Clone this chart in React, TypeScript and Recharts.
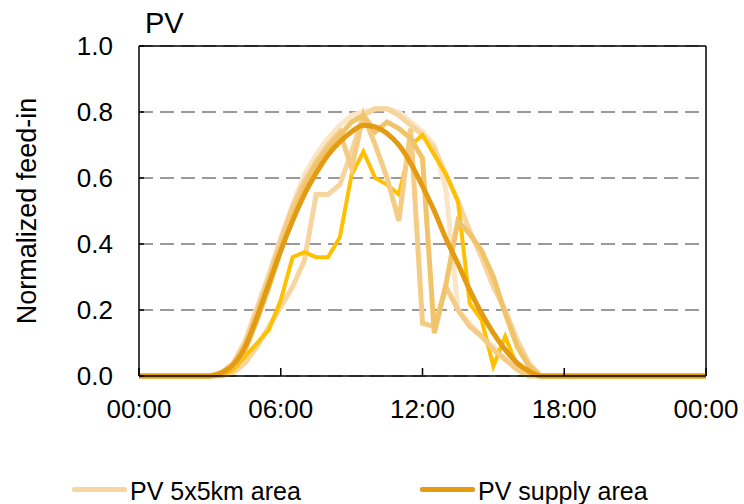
import React from 'react';
import {
  LineChart,
  Line,
  XAxis,
  YAxis,
  CartesianGrid,
  ReferenceLine,
} from 'recharts';

// half-hour steps, 00:00 .. 24:00
const hours = [
  0, 0.5, 1, 1.5, 2, 2.5, 3, 3.5, 4, 4.5, 5, 5.5,
  6, 6.5, 7, 7.5, 8, 8.5, 9, 9.5, 10, 10.5, 11, 11.5,
  12, 12.5, 13, 13.5, 14, 14.5, 15, 15.5, 16, 16.5, 17, 17.5,
  18, 18.5, 19, 19.5, 20, 20.5, 21, 21.5, 22, 22.5, 23, 23.5, 24,
];

// PV 5x5km areas (several grid cells)
const areaPale = [
  0, 0, 0, 0, 0, 0, 0, 0.01, 0.04, 0.11, 0.21, 0.31,
  0.42, 0.52, 0.61, 0.67, 0.72, 0.76, 0.79, 0.8, 0.81, 0.81, 0.8, 0.77,
  0.74, 0.7, 0.56, 0.2, 0.16, 0.12, 0.09, 0.05, 0.02, 0, 0, 0,
  0, 0, 0, 0, 0, 0, 0, 0, 0, 0, 0, 0, 0,
];
const areaBeige = [
  0, 0, 0, 0, 0, 0, 0, 0, 0.01, 0.04, 0.09, 0.15,
  0.21, 0.27, 0.35, 0.55, 0.55, 0.58, 0.68, 0.79, 0.81, 0.81, 0.79, 0.76,
  0.73, 0.69, 0.61, 0.53, 0.44, 0.36, 0.27, 0.2, 0.11, 0.04, 0, 0,
  0, 0, 0, 0, 0, 0, 0, 0, 0, 0, 0, 0, 0,
];
const areaLight = [
  0, 0, 0, 0, 0, 0, 0, 0.01, 0.04, 0.1, 0.2, 0.3,
  0.41, 0.51, 0.59, 0.65, 0.7, 0.74, 0.63, 0.79, 0.7, 0.6, 0.47, 0.75,
  0.16, 0.15, 0.27, 0.2, 0.15, 0.12, 0.08, 0.05, 0.02, 0, 0, 0,
  0, 0, 0, 0, 0, 0, 0, 0, 0, 0, 0, 0, 0,
];
const areaMid = [
  0, 0, 0, 0, 0, 0, 0, 0.01, 0.03, 0.08, 0.17, 0.27,
  0.38, 0.48, 0.57, 0.64, 0.69, 0.73, 0.77, 0.79, 0.74, 0.77, 0.75, 0.72,
  0.66, 0.13, 0.28, 0.47, 0.43, 0.38, 0.3, 0.19, 0.09, 0.03, 0, 0,
  0, 0, 0, 0, 0, 0, 0, 0, 0, 0, 0, 0, 0,
];
const areaYellow = [
  0, 0, 0, 0, 0, 0, 0, 0, 0.02, 0.06, 0.1, 0.14,
  0.23, 0.36, 0.375, 0.36, 0.36, 0.42, 0.61, 0.68, 0.6, 0.58, 0.55, 0.7,
  0.73, 0.67, 0.61, 0.53, 0.22, 0.17, 0.03, 0.12, 0.03, 0, 0, 0,
  0, 0, 0, 0, 0, 0, 0, 0, 0, 0, 0, 0, 0,
];

// PV supply area
const supplyArea = [
  0, 0, 0, 0, 0, 0, 0, 0.01, 0.035, 0.09, 0.18, 0.28,
  0.38, 0.47, 0.55, 0.615, 0.67, 0.71, 0.74, 0.76, 0.755, 0.735, 0.7, 0.645,
  0.575, 0.5, 0.415, 0.34, 0.26, 0.19, 0.13, 0.08, 0.04, 0.015, 0, 0,
  0, 0, 0, 0, 0, 0, 0, 0, 0, 0, 0, 0, 0,
];

const xTicks = [0, 6, 12, 18, 24];
const xTickLabels = ['00:00', '06:00', '12:00', '18:00', '00:00'];
const yTicks = [0, 0.2, 0.4, 0.6, 0.8, 1.0];

const data = hours.map((h, i) => ({
  h,
  pale: areaPale[i],
  beige: areaBeige[i],
  light: areaLight[i],
  mid: areaMid[i],
  yellow: areaYellow[i],
  supply: supplyArea[i],
}));

const FONT = '"Liberation Sans", Arial, sans-serif';

const XTick = (props: any) => {
  const { x, y, index } = props;
  return (
    <g>
      <line x1={x} x2={x} y1={y} y2={y - 8} stroke="#000" strokeWidth={1.5} />
      <text x={x} y={y + 42} textAnchor="middle" fontSize={26} fontFamily={FONT} fill="#000">
        {xTickLabels[index]}
      </text>
    </g>
  );
};

const YTick = (props: any) => {
  const { x, y, payload } = props;
  return (
    <g>
      <line x1={x} x2={x + 5} y1={y} y2={y} stroke="#000" strokeWidth={1.5} />
      <text x={x - 26} y={y + 9} textAnchor="end" fontSize={26} fontFamily={FONT} fill="#000">
        {payload.value.toFixed(1)}
      </text>
    </g>
  );
};

const App = () => {
  return (
    <div style={{ position: 'absolute', left: 0, top: 0, width: 744, height: 504, background: '#fff', fontFamily: FONT }}>
      <LineChart width={744} height={504} data={data} margin={{ top: 46, right: 38, bottom: 88, left: 79 }}>
        <CartesianGrid vertical={false} stroke="#9a9a9a" strokeWidth={2} strokeDasharray="14 7" />
        <XAxis
          dataKey="h"
          type="number"
          domain={[0, 24]}
          ticks={xTicks}
          height={40}
          tickSize={0}
          tickMargin={0}
          tick={<XTick />}
          axisLine={{ stroke: '#000', strokeWidth: 1.5 }}
          interval={0}
        />
        <YAxis
          type="number"
          domain={[0, 1]}
          ticks={yTicks}
          width={60}
          tickSize={0}
          tickMargin={0}
          tick={<YTick />}
          axisLine={{ stroke: '#000', strokeWidth: 1.5 }}
          interval={0}
        />
        <ReferenceLine y={1} stroke="#000" strokeWidth={1.5} />
        <ReferenceLine x={24} stroke="#000" strokeWidth={1.5} />
        <Line dataKey="pale" stroke="#FAE5C6" strokeWidth={5} dot={false} isAnimationActive={false} />
        <Line dataKey="beige" stroke="#F7D59E" strokeWidth={5} dot={false} isAnimationActive={false} />
        <Line dataKey="yellow" stroke="#FFC000" strokeWidth={4} dot={false} isAnimationActive={false} />
        <Line dataKey="light" stroke="#F4CC86" strokeWidth={5} dot={false} isAnimationActive={false} />
        <Line dataKey="mid" stroke="#F1C36B" strokeWidth={5} dot={false} isAnimationActive={false} />
        <Line type="monotone" dataKey="supply" stroke="#E39B12" strokeWidth={5} dot={false} isAnimationActive={false} />
      </LineChart>

      <div style={{ position: 'absolute', left: 145, top: 9, fontSize: 29, lineHeight: 1, color: '#000' }}>PV</div>

      <div
        style={{
          position: 'absolute',
          left: 27,
          top: 211,
          transform: 'translate(-50%, -50%) rotate(-90deg)',
          whiteSpace: 'nowrap',
          fontSize: 27,
          lineHeight: 1,
          color: '#000',
        }}
      >
        Normalized feed-in
      </div>

      <div style={{ position: 'absolute', left: 72, top: 487, width: 55, height: 5, borderRadius: 2, background: '#F8D6A0' }} />
      <div style={{ position: 'absolute', left: 130, top: 479, fontSize: 25, lineHeight: 1, color: '#000', whiteSpace: 'nowrap' }}>
        PV 5x5km area
      </div>
      <div style={{ position: 'absolute', left: 420, top: 487, width: 55, height: 5, borderRadius: 2, background: '#E39B12' }} />
      <div style={{ position: 'absolute', left: 478, top: 479, fontSize: 25, lineHeight: 1, color: '#000', whiteSpace: 'nowrap' }}>
        PV supply area
      </div>
    </div>
  );
};

export default App;
